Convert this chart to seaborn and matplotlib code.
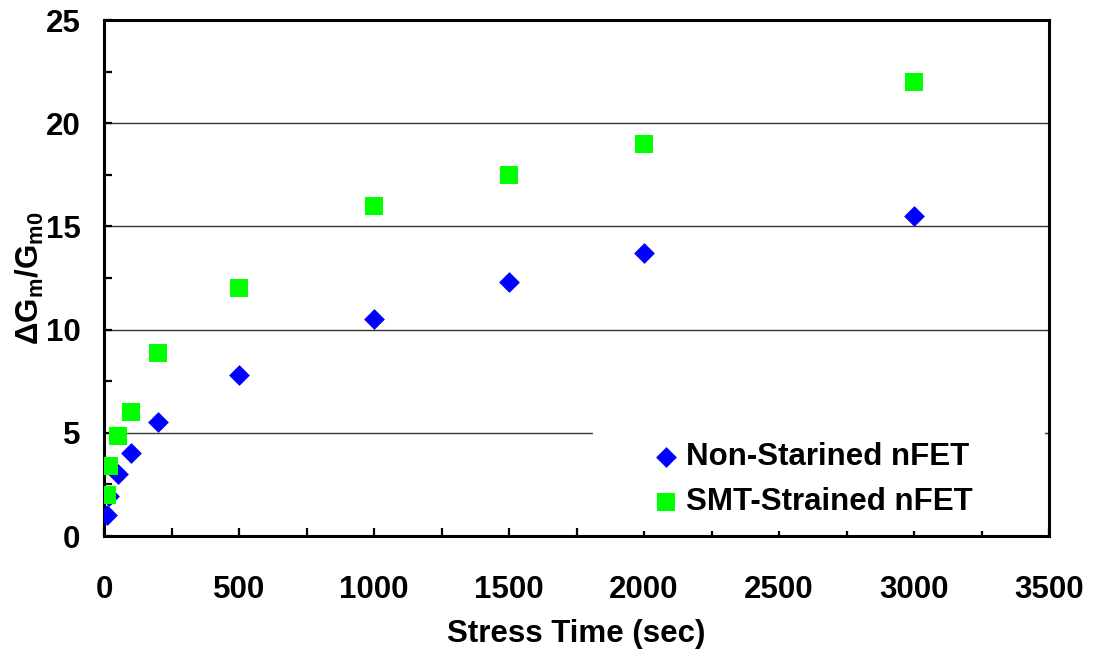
import matplotlib
matplotlib.use("Agg")
import matplotlib.pyplot as plt
from matplotlib.ticker import MultipleLocator
import seaborn as sns
import pandas as pd

# Stress time (s) and transconductance degradation (%)
stress_time = [10, 20, 50, 100, 200, 500, 1000, 1500, 2000, 3000]
non_strained = [1.0, 1.95, 3.0, 4.0, 5.5, 7.8, 10.5, 12.3, 13.7, 15.5]
smt_strained = [2.0, 3.4, 4.85, 6.0, 8.85, 12.0, 16.0, 17.5, 19.0, 22.0]
series_names = ["Non-Starined nFET", "SMT-Strained nFET"]

sns.set_style("white")
plt.rcParams["font.family"] = ["Liberation Sans", "DejaVu Sans"]
plt.rcParams["font.weight"] = "bold"
plt.rcParams["text.color"] = "black"
plt.rcParams["axes.labelcolor"] = "black"
plt.rcParams["xtick.color"] = "black"
plt.rcParams["ytick.color"] = "black"
plt.rcParams["mathtext.fontset"] = "custom"
plt.rcParams["mathtext.rm"] = "Liberation Sans:bold"
plt.rcParams["mathtext.it"] = "Liberation Sans:bold"
plt.rcParams["mathtext.bf"] = "Liberation Sans:bold"

FS = 22.5

df_ns = pd.DataFrame({"t": stress_time, "g": non_strained})
df_smt = pd.DataFrame({"t": stress_time, "g": smt_strained})

fig = plt.figure(figsize=(10.94, 6.55), dpi=100)
ax = fig.add_axes([104 / 1094, 119 / 655, 945 / 1094, 516 / 655])

sns.scatterplot(data=df_ns, x="t", y="g", ax=ax, marker="D", s=112,
                color="#0000FF", linewidth=0, label=series_names[0], zorder=3)
sns.scatterplot(data=df_smt, x="t", y="g", ax=ax, marker="s", s=169,
                color="#00FF00", linewidth=0, label=series_names[1], zorder=4)

ax.set_xlim(0, 3500)
ax.set_ylim(0, 25)
ax.xaxis.set_major_locator(MultipleLocator(500))
ax.xaxis.set_minor_locator(MultipleLocator(250))
ax.yaxis.set_major_locator(MultipleLocator(5))
ax.yaxis.set_minor_locator(MultipleLocator(2.5))

ax.yaxis.grid(True, which="major", color="#333333", linewidth=1.0)
ax.xaxis.grid(False)
ax.set_axisbelow(True)

for sp in ax.spines.values():
    sp.set_visible(True)
    sp.set_color("black")
    sp.set_linewidth(2.2)

ax.tick_params(axis="both", which="both", direction="in", color="black",
               width=1.6, labelsize=FS, labelcolor="black")
ax.tick_params(axis="y", which="both", length=6, pad=17, left=True, right=False)
ax.tick_params(axis="x", which="both", length=6, pad=28, bottom=True, top=False)
for lbl in ax.get_xticklabels() + ax.get_yticklabels():
    lbl.set_fontweight("bold")

ax.set_xlabel("Stress Time (sec)", fontsize=FS, fontweight="bold",
              color="black", labelpad=10)
ax.set_ylabel("ΔG$_\\mathregular{m}$/G$_\\mathregular{m0}$", fontsize=FS,
              fontweight="bold", color="black", labelpad=0)

leg = ax.legend(loc="lower left", bbox_to_anchor=(0.5175, 0.010, 0.478, 0.2),
                mode="expand", borderaxespad=0, frameon=True, fancybox=False,
                framealpha=1, facecolor="white", edgecolor="none",
                handlelength=3.78, handletextpad=-1.25, borderpad=0.45,
                labelspacing=0.48, scatterpoints=1,
                prop={"family": "Liberation Sans", "weight": "bold", "size": FS})
for txt in leg.get_texts():
    txt.set_color("black")
leg.set_zorder(5)

fig.savefig("out.png", dpi=100)
